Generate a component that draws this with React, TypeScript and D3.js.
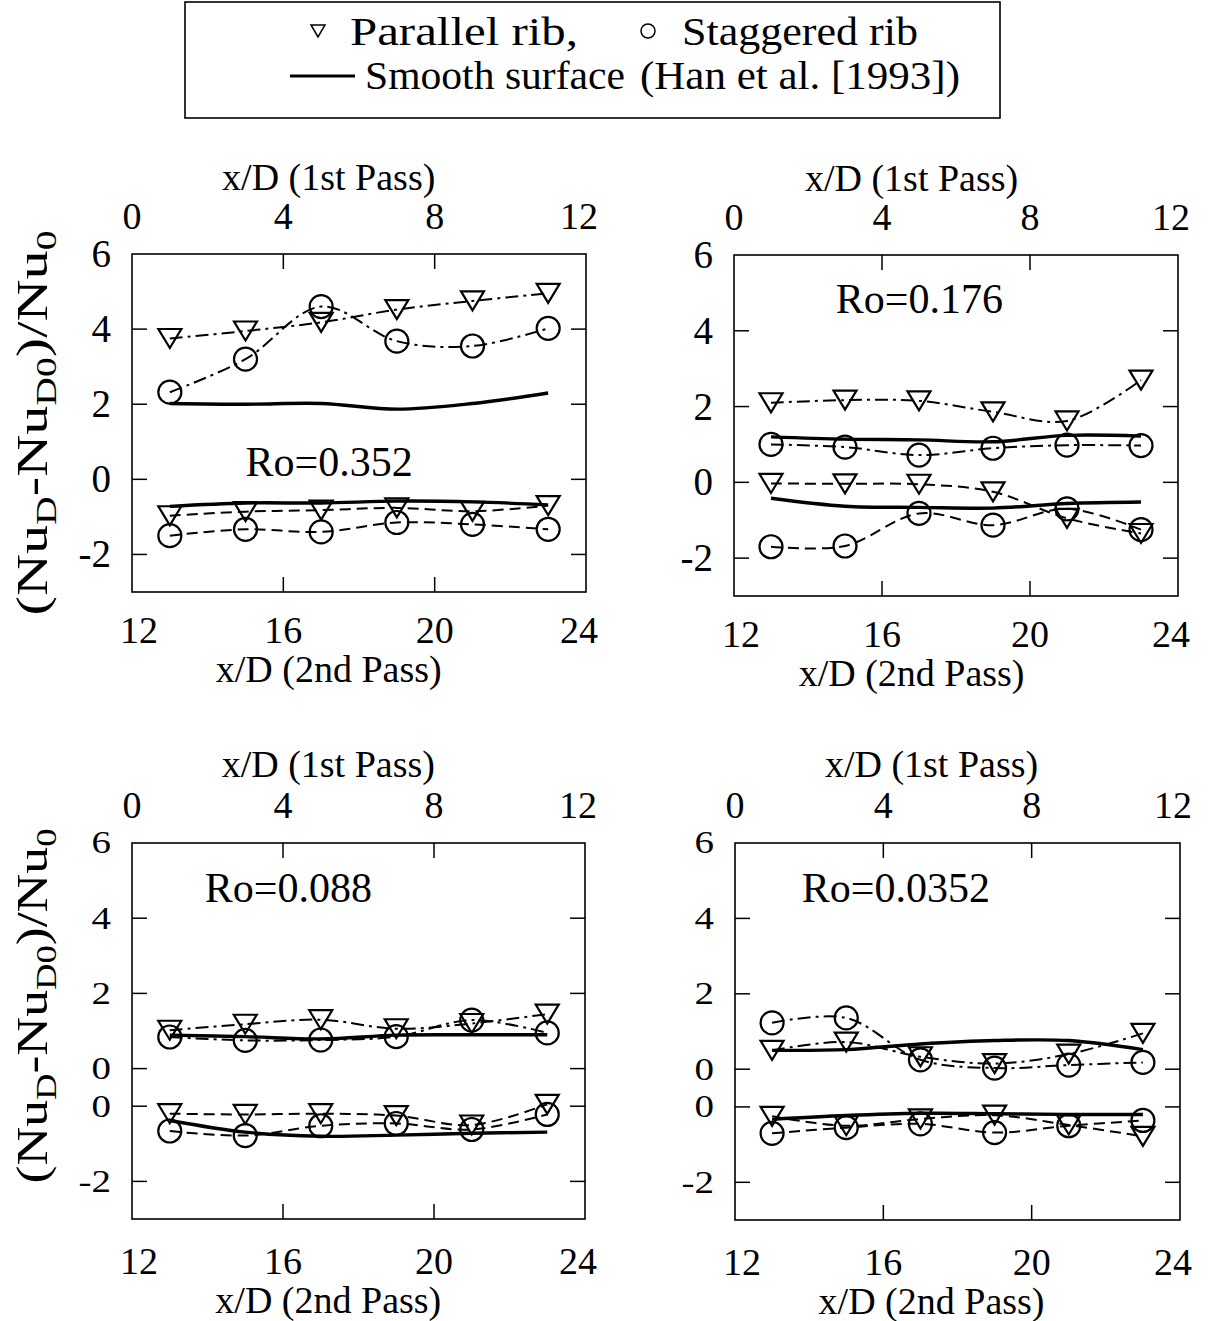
import React from 'react';
import * as d3 from 'd3';

const FONT = "'Liberation Serif', 'Times New Roman', serif";

// x/D in the 2nd pass where the data were taken
const xPos = [13, 15, 17, 19, 21, 23];
const xTicks2nd = [12, 16, 20, 24];
const xTicks1st = [0, 4, 8, 12];

// Ro = 0.352
const r352ParUp = [3.75, 3.95, 4.18, 4.52, 4.75, 4.95];
const r352StgUp = [2.32, 3.2, 4.6, 3.68, 3.55, 4.02];
const r352SmUp = [2.02, 2.0, 2.02, 1.87, 2.02, 2.3];
const r352ParLo = [-0.97, -0.86, -0.82, -0.76, -0.85, -0.7];
const r352StgLo = [-1.5, -1.33, -1.4, -1.15, -1.2, -1.33];
const r352SmLo = [-0.72, -0.63, -0.63, -0.58, -0.6, -0.68];

// Ro = 0.176
const r176ParUp = [2.1, 2.17, 2.15, 1.86, 1.62, 2.7];
const r176StgUp = [1.0, 0.93, 0.72, 0.9, 0.98, 0.97];
const r176SmUp = [1.2, 1.14, 1.12, 1.07, 1.24, 1.22];
const r176ParLo = [-0.03, -0.04, -0.05, -0.25, -0.95, -1.35];
const r176StgLo = [-1.7, -1.68, -0.82, -1.13, -0.7, -1.25];
const r176SmLo = [-0.42, -0.63, -0.66, -0.68, -0.56, -0.52];

// Ro = 0.088 (lower group drawn on its own shifted zero)
const r088ParUp = [1.02, 1.18, 1.3, 1.06, 1.2, 1.45];
const r088StgUp = [0.84, 0.75, 0.76, 0.85, 1.29, 0.95];
const r088SmUp = [0.89, 0.85, 0.79, 0.89, 0.9, 0.9];
const r088ParLo = [-0.2, -0.22, -0.2, -0.25, -0.5, 0.05];
const r088StgLo = [-0.66, -0.78, -0.52, -0.46, -0.62, -0.22];
const r088SmLo = [-0.38, -0.69, -0.8, -0.77, -0.72, -0.69];

// Ro = 0.0352
const r035ParUp = [0.5, 0.72, 0.33, 0.15, 0.4, 0.95];
const r035StgUp = [1.23, 1.36, 0.25, 0.03, 0.11, 0.18];
const r035SmUp = [0.5, 0.52, 0.67, 0.76, 0.76, 0.52];
const r035ParLo = [-0.25, -0.5, -0.32, -0.22, -0.48, -0.78];
const r035StgLo = [-0.7, -0.55, -0.45, -0.68, -0.5, -0.36];
const r035SmLo = [-0.33, -0.23, -0.17, -0.18, -0.2, -0.2];

const DASHDOT = '13,5,3,5';
const DASHED = '11,6';

function makeSeries(parUp, stgUp, smUp, parLo, stgLo, smLo) {
  return [
    { values: smUp, marker: 'none', dash: null, width: 3.4, lower: false },
    { values: smLo, marker: 'none', dash: null, width: 3.4, lower: true },
    { values: parUp, marker: 'tri', dash: DASHDOT, width: 2, lower: false },
    { values: stgUp, marker: 'circ', dash: DASHDOT, width: 2, lower: false },
    { values: parLo, marker: 'tri', dash: DASHED, width: 2, lower: true },
    { values: stgLo, marker: 'circ', dash: DASHED, width: 2, lower: true },
  ];
}

const panels = [
  {
    left: 132, top: 254, width: 454, height: 338, split: false,
    label: 'Ro=0.352', labelAt: [15.0, 0.1], titleX: 17.2,
    topTitle: 64, topTick: 25, botTick: 51, botTitle: 90,
    yTitle: true, yTitleLen: 385,
    series: makeSeries(r352ParUp, r352StgUp, r352SmUp, r352ParLo, r352StgLo, r352SmLo),
  },
  {
    left: 734, top: 255, width: 444, height: 341, split: false,
    label: 'Ro=0.176', labelAt: [14.75, 4.47], titleX: 16.8,
    topTitle: 64, topTick: 25, botTick: 51, botTitle: 90,
    yTitle: false, yTitleLen: 0,
    series: makeSeries(r176ParUp, r176StgUp, r176SmUp, r176ParLo, r176StgLo, r176SmLo),
  },
  {
    left: 132, top: 843, width: 453, height: 376, split: true,
    label: 'Ro=0.088', labelAt: [13.93, 4.43], titleX: 17.2,
    topTitle: 66, topTick: 25, botTick: 55, botTitle: 94,
    yTitle: true, yTitleLen: 355,
    series: makeSeries(r088ParUp, r088StgUp, r088SmUp, r088ParLo, r088StgLo, r088SmLo),
  },
  {
    left: 735, top: 843, width: 445, height: 377, split: true,
    label: 'Ro=0.0352', labelAt: [13.8, 4.43], titleX: 17.3,
    topTitle: 66, topTick: 25, botTick: 55, botTitle: 94,
    yTitle: false, yTitleLen: 0,
    series: makeSeries(r035ParUp, r035StgUp, r035SmUp, r035ParLo, r035StgLo, r035SmLo),
  },
];

const triPath = 'M-11.5,-9.5L11.5,-9.5L0,9.5Z';

function Panel({ p }) {
  const right = p.left + p.width;
  const bottom = p.top + p.height;
  const x = d3.scaleLinear().domain([12, 24]).range([p.left, right]);
  const xTop = d3.scaleLinear().domain([0, 12]).range([p.left, right]);
  const y = d3.scaleLinear().domain(p.split ? [-4, 6] : [-3, 6]).range([bottom, p.top]);
  const off = (lower) => (p.split && lower ? -1 : 0);

  // tick values on the internal scale, with their printed labels
  const yTicks = p.split
    ? [[6, '6'], [4, '4'], [2, '2'], [0, '0'], [-1, '0'], [-3, '-2']]
    : [[6, '6'], [4, '4'], [2, '2'], [0, '0'], [-2, '-2']];
  const innerY = yTicks.filter((t) => t[0] < y.domain()[1] && t[0] > y.domain()[0]);
  const innerX = xTicks2nd.filter((t) => t > 12 && t < 24);
  const tl = 15;
  // the stacked zeros of the split panels use slightly squat digits
  const ySquash = p.split ? 0.8 : 1;
  // edge labels sit a little inside the frame corners
  const nudge = (i, n, first) => (i === n - 1 ? -7 : i === 0 ? first : 0);

  return (
    <g>
      <rect x={p.left} y={p.top} width={p.width} height={p.height} fill="none" stroke="#000" strokeWidth={1.6} />
      {innerY.map((t, i) => (
        <g key={'yt' + i} stroke="#000" strokeWidth={1.5}>
          <line x1={p.left} x2={p.left + tl} y1={y(t[0])} y2={y(t[0])} />
          <line x1={right} x2={right - tl} y1={y(t[0])} y2={y(t[0])} />
        </g>
      ))}
      {innerX.map((t, i) => (
        <g key={'xt' + i} stroke="#000" strokeWidth={1.5}>
          <line x1={x(t)} x2={x(t)} y1={bottom} y2={bottom - tl} />
          <line x1={x(t)} x2={x(t)} y1={p.top} y2={p.top + tl} />
        </g>
      ))}
      {yTicks.map((t, i) => (
        <text
          key={'yl' + i}
          transform={`translate(${p.left - 21},${y(t[0]) + 13 * ySquash}) scale(1,${ySquash})`}
          textAnchor="end"
          fontSize={39}
          fontFamily={FONT}
        >
          {t[1]}
        </text>
      ))}
      {xTicks2nd.map((t, i) => (
        <text key={'xb' + t} x={x(t) + nudge(i, xTicks2nd.length, 7)} y={bottom + p.botTick} textAnchor="middle" fontSize={38} fontFamily={FONT}>
          {t}
        </text>
      ))}
      {xTicks1st.map((t, i) => (
        <text key={'xa' + t} x={xTop(t) + nudge(i, xTicks1st.length, 0)} y={p.top - p.topTick} textAnchor="middle" fontSize={38} fontFamily={FONT}>
          {t}
        </text>
      ))}
      <text x={x(p.titleX)} y={p.top - p.topTitle} textAnchor="middle" fontSize={38} fontFamily={FONT}>
        x/D (1st Pass)
      </text>
      <text x={x(p.titleX)} y={bottom + p.botTitle} textAnchor="middle" fontSize={38} fontFamily={FONT}>
        x/D (2nd Pass)
      </text>
      {p.yTitle && (
        <text
          transform={`translate(47,${p.top + p.height / 2 - (p.split ? 25 : 0)}) rotate(-90)`}
          textAnchor="middle"
          fontSize={44}
          fontFamily={FONT}
          textLength={p.yTitleLen}
          lengthAdjust="spacingAndGlyphs"
        >
          (Nu<tspan fontSize={30} dy={9}>D</tspan>
          <tspan dy={-9}>-Nu</tspan>
          <tspan fontSize={30} dy={9}>D0</tspan>
          <tspan dy={-9}>)/Nu</tspan>
          <tspan fontSize={30} dy={9}>0</tspan>
        </text>
      )}
      <text x={x(p.labelAt[0])} y={y(p.labelAt[1])} fontSize={42} fontFamily={FONT}>
        {p.label}
      </text>
      {p.series.map((s, si) => {
        const line = d3
          .line()
          .x((d, i) => x(xPos[i]))
          .y((d) => y(d + off(s.lower)))
          .curve(d3.curveCatmullRom.alpha(0.5));
        return (
          <g key={'s' + si}>
            <path d={line(s.values)} fill="none" stroke="#000" strokeWidth={s.width} strokeDasharray={s.dash || undefined} />
            {s.marker !== 'none' &&
              s.values.map((v, i) =>
                s.marker === 'tri' ? (
                  <path key={i} d={triPath} transform={`translate(${x(xPos[i])},${y(v + off(s.lower))})`} fill="none" stroke="#000" strokeWidth={2.2} />
                ) : (
                  <circle key={i} cx={x(xPos[i])} cy={y(v + off(s.lower))} r={11.5} fill="none" stroke="#000" strokeWidth={2.2} />
                )
              )}
          </g>
        );
      })}
    </g>
  );
}

function Legend() {
  return (
    <g fontFamily={FONT} fontSize={41}>
      <rect x={185} y={2} width={815} height={116} fill="none" stroke="#000" strokeWidth={1.6} />
      <path d="M-7,-6L7,-6L0,6Z" transform="translate(318,31)" fill="none" stroke="#000" strokeWidth={1.5} />
      <text x={350} y={45} textLength={228} lengthAdjust="spacingAndGlyphs">Parallel rib,</text>
      <circle cx={648} cy={31} r={7} fill="none" stroke="#000" strokeWidth={1.5} />
      <text x={682} y={45} textLength={236} lengthAdjust="spacingAndGlyphs">Staggered rib</text>
      <line x1={290} x2={355} y1={76} y2={76} stroke="#000" strokeWidth={3.2} />
      <text x={365} y={89} textLength={260} lengthAdjust="spacingAndGlyphs">Smooth surface</text>
      <text x={640} y={89} textLength={320} lengthAdjust="spacingAndGlyphs">(Han et al. [1993])</text>
    </g>
  );
}

export default function App() {
  return (
    <svg
      width={1218}
      height={1321}
      style={{ position: 'absolute', left: 0, top: 0, display: 'block', background: '#fff' }}
    >
      <Legend />
      {panels.map((p, i) => (
        <Panel key={i} p={p} />
      ))}
    </svg>
  );
}
